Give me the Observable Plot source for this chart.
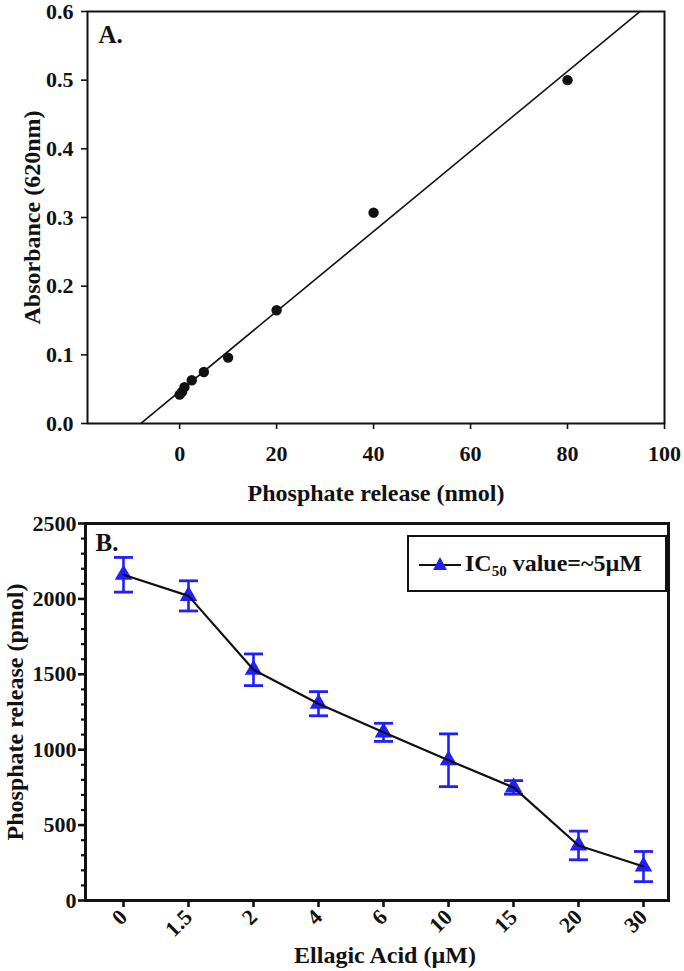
<!DOCTYPE html>
<html>
<head>
<meta charset="utf-8">
<script src="https://cdn.jsdelivr.net/npm/d3@7"></script>
<script src="https://cdn.jsdelivr.net/npm/@observablehq/plot@0.6"></script>
<style>
  body { margin: 0; background: #fff; }
  #wrap { position: relative; width: 684px; height: 971px; overflow: hidden;
          font-family: "Liberation Serif", "Times New Roman", serif; font-weight: bold; color: #111; }
  #wrap > svg { display: block; }
  #legend { position: absolute; left: 407px; top: 535px; width: 256px; height: 53px;
            border: 2px solid #111; background: #fff; display: flex; align-items: center;
            font-size: 24px; white-space: nowrap; }
  #legend svg { display: block; margin-left: 10px; margin-right: 4px; }
  #legend sub { font-size: 15px; vertical-align: -5px; line-height: 0; }
</style>
</head>
<body>
<div id="wrap"></div>
<script>
// ---------- Panel A: standard curve ----------
const stdPhosphate = [0, 0.5, 1, 2.5, 5, 10, 20, 40, 80];           // nmol
const stdAbsorbance = [0.042, 0.046, 0.053, 0.063, 0.075, 0.096, 0.165, 0.307, 0.5];
const xTicksA = [0, 20, 40, 60, 80, 100];
const yTicksA = [0, 0.1, 0.2, 0.3, 0.4, 0.5, 0.6];
const xDomainA = [-19, 100];
const yDomainA = [0, 0.6];

// ---------- Panel B: inhibition ----------
const ellagicLabels = ["0", "1.5", "2", "4", "6", "10", "15", "20", "30"]; // µM
const releasePmol = [2160, 2020, 1530, 1305, 1115, 930, 750, 365, 225];
const releaseErr = [115, 100, 105, 80, 60, 175, 45, 95, 100];
const yTicksB = [0, 500, 1000, 1500, 2000, 2500];
const yMinorTicksB = [100,200,300,400,600,700,800,900,1100,1200,1300,1400,1600,1700,1800,1900,2100,2200,2300,2400];
const yDomainB = [0, 2500];

const FONT = '"Liberation Serif", "Times New Roman", serif';
const INK = "#111";
const BLUE = "#1f1fff";

// least-squares fit of the standard curve
const pointsA = stdPhosphate.map((x, i) => ({x, y: stdAbsorbance[i]}));
const mx = d3.mean(stdPhosphate), my = d3.mean(stdAbsorbance);
const slope = d3.sum(pointsA, d => (d.x - mx) * (d.y - my)) / d3.sum(pointsA, d => (d.x - mx) ** 2);
const intercept = my - slope * mx;
const fitLine = xDomainA.map(x => ({x, y: intercept + slope * x}));

const wrap = document.getElementById("wrap");

const plotA = Plot.plot({
  width: 684, height: 505,
  marginTop: 11, marginBottom: 82, marginLeft: 87, marginRight: 20,
  style: {fontFamily: FONT, fontWeight: "bold", fontSize: "22px", color: INK, background: "#fff", overflow: "visible"},
  x: {domain: xDomainA},
  y: {domain: yDomainA},
  marks: [
    Plot.line(fitLine, {x: "x", y: "y", stroke: INK, strokeWidth: 1.6, clip: true}),
    Plot.dot(pointsA, {x: "x", y: "y", r: 5.2, fill: INK, stroke: "none"}),
    Plot.frame({stroke: INK, strokeWidth: 2}),
    Plot.axisY({ticks: yTicksA, tickFormat: ".1f", tickSize: 6, tickPadding: 8, strokeWidth: 1.6, label: null, fontSize: 22}),
    Plot.axisX({ticks: xTicksA, tickSize: 6, tickPadding: 16, strokeWidth: 1.6, label: null, fontSize: 22}),
    Plot.text(["Phosphate release (nmol)"], {text: d => d, frameAnchor: "bottom", textAnchor: "middle", lineAnchor: "middle", dy: 70, fontSize: 24}),
    Plot.text(["Absorbance (620nm)"], {text: d => d, frameAnchor: "left", textAnchor: "middle", lineAnchor: "middle", rotate: -90, dx: -55, fontSize: 24}),
    Plot.text(["A."], {text: d => d, frameAnchor: "top-left", textAnchor: "start", lineAnchor: "middle", dx: 11, dy: 23, fontSize: 25})
  ]
});
wrap.appendChild(plotA);

const rowsB = ellagicLabels.map((c, i) => ({c, v: releasePmol[i], e: releaseErr[i]}));
const caps = rowsB.flatMap(d => [{c: d.c, y: d.v - d.e}, {c: d.c, y: d.v + d.e}]);
const capSymbol = {draw(ctx) { ctx.moveTo(-9.5, 0); ctx.lineTo(9.5, 0); }};

const plotB = Plot.plot({
  width: 684, height: 466,
  marginTop: 18, marginBottom: 71, marginLeft: 85, marginRight: 16,
  style: {fontFamily: FONT, fontWeight: "bold", fontSize: "22px", color: INK, background: "#fff", overflow: "visible"},
  x: {type: "point", domain: ellagicLabels, padding: 0.33, insetLeft: 13},
  y: {domain: yDomainB},
  marks: [
    Plot.ruleX(rowsB, {x: "c", y1: d => d.v - d.e, y2: d => d.v + d.e, stroke: BLUE, strokeWidth: 2.6}),
    Plot.dot(caps, {x: "c", y: "y", symbol: capSymbol, fill: "none", stroke: BLUE, strokeWidth: 2.8}),
    Plot.dot(rowsB, {x: "c", y: "v", symbol: "triangle", r: 6.5, fill: BLUE, stroke: "none"}),
    Plot.line(rowsB, {x: "c", y: "v", stroke: INK, strokeWidth: 2.2}),
    Plot.frame({stroke: INK, strokeWidth: 3}),
    Plot.axisY({ticks: yMinorTicksB, text: null, tickSize: 4, strokeWidth: 2.2, label: null}),
    Plot.axisY({ticks: yTicksB, tickFormat: "d", tickSize: 7, tickPadding: 2, strokeWidth: 2.6, label: null, fontSize: 22}),
    Plot.axisX({tickSize: 7, tickPadding: 6, tickRotate: -45, strokeWidth: 2.6, label: null, fontSize: 22}),
    Plot.text(["Ellagic Acid (µM)"], {text: d => d, frameAnchor: "bottom", textAnchor: "middle", lineAnchor: "middle", dy: 55, dx: 8, fontSize: 24}),
    Plot.text(["Phosphate release (pmol)"], {text: d => d, frameAnchor: "left", textAnchor: "middle", lineAnchor: "middle", rotate: -90, dx: -70, fontSize: 24}),
    Plot.text(["B."], {text: d => d, frameAnchor: "top-left", textAnchor: "start", lineAnchor: "middle", dx: 10, dy: 19, fontSize: 25})
  ]
});
wrap.appendChild(plotB);

// legend (inside panel B, upper right)
const legend = document.createElement("div");
legend.id = "legend";
legend.innerHTML =
  '<svg width="42" height="20" viewBox="0 0 42 20">' +
  '<line x1="0" y1="11" x2="42" y2="11" stroke="' + INK + '" stroke-width="2"/>' +
  '<path d="M21,3 L28,16 L14,16 Z" fill="' + BLUE + '"/></svg>' +
  '<span>IC<sub>50</sub> value=~5µM</span>';
wrap.appendChild(legend);
</script>
</body>
</html>
